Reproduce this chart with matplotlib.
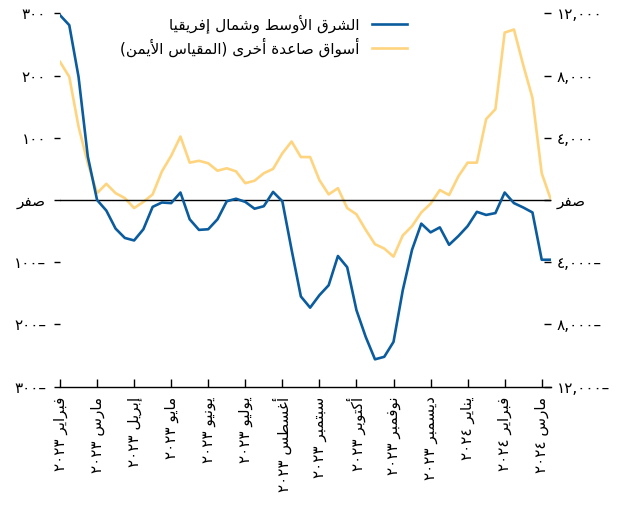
import re
import numpy as np
import matplotlib
matplotlib.use('Agg')
import matplotlib.pyplot as plt

plt.rcParams['font.family'] = 'DejaVu Sans'

# ---- data ----
months = ['فبراير', 'مارس', 'إبريل', 'مايو', 'يونيو', 'يوليو', 'أغسطس',
          'سبتمبر', 'أكتوبر', 'نوفمبر', 'ديسمبر', 'يناير', 'فبراير', 'مارس']
years = ['٢٠٢٣'] * 11 + ['٢٠٢٤'] * 3

# Middle East & North Africa (left scale), four points per month
mena = [297, 281, 198, 70, 0, -17, -46, -61, -65, -47, -11, -4, -5, 12,
        -31, -48, -47, -31, -2, 2, -3, -14, -10, 13, -2, -80,
        -155, -173, -153, -137, -90, -108, -177, -220, -256, -252, -228, -145, -80, -38, -52,
        -44, -72, -58, -42, -19, -24, -21, 12, -5, -12, -20, -96, -96]

# other emerging markets (right scale)
other_em = [8880, 7920, 4720, 2360, 440, 1040, 440, 120, -520, -120, 360, 1840, 2840, 4080,
            2400, 2520, 2360, 1880, 2040, 1840, 1080, 1240, 1720, 2000, 3000, 3760,
            2760, 2760, 1280, 360, 760, -520, -920, -1920, -2840, -3120, -3640, -2280, -1680, -800, -240,
            640, 320, 1520, 2400, 2400, 5200, 5840, 10760, 10960, 8680, 6560, 1720, 0]

left_ticks = [300, 200, 100, 0, -100, -200, -300]
left_labels = ['٣٠٠', '٢٠٠', '١٠٠', 'صفر', '١٠٠–', '٢٠٠–', '٣٠٠–']
right_ticks = [12000, 8000, 4000, 0, -4000, -8000, -12000]
right_labels = ['١٢,٠٠٠', '٨,٠٠٠', '٤,٠٠٠', 'صفر', '٤,٠٠٠–', '٨,٠٠٠–', '١٢,٠٠٠–']

label_mena = 'الشرق الأوسط وشمال إفريقيا'
label_other = 'أسواق صاعدة أخرى (المقياس الأيمن)'

BLUE = '#0a5c9e'
YELLOW = '#ffd47e'

# ---- minimal Arabic shaping (matplotlib has no bidi / joining) ----
_two = {'ا': 0xFE8D, 'أ': 0xFE83, 'إ': 0xFE87, 'آ': 0xFE81, 'ة': 0xFE93, 'د': 0xFEA9,
        'ذ': 0xFEAB, 'ر': 0xFEAD, 'ز': 0xFEAF, 'و': 0xFEED, 'ى': 0xFEEF}
_four = {'ب': 0xFE8F, 'ت': 0xFE95, 'ث': 0xFE99, 'ج': 0xFE9D, 'ح': 0xFEA1, 'خ': 0xFEA5,
         'س': 0xFEB1, 'ش': 0xFEB5, 'ص': 0xFEB9, 'ض': 0xFEBD, 'ط': 0xFEC1, 'ظ': 0xFEC5,
         'ع': 0xFEC9, 'غ': 0xFECD, 'ف': 0xFED1, 'ق': 0xFED5, 'ك': 0xFED9, 'ل': 0xFEDD,
         'م': 0xFEE1, 'ن': 0xFEE5, 'ه': 0xFEE9, 'ي': 0xFEF1}
_lamalef = {'ا': 0xFEFB, 'أ': 0xFEF7, 'إ': 0xFEF9, 'آ': 0xFEF5}


def shape(s):
    units = []
    i = 0
    while i < len(s):
        if s[i] == 'ل' and i + 1 < len(s) and s[i + 1] in _lamalef:
            units.append(('la', _lamalef[s[i + 1]]))
            i += 2
        else:
            units.append(s[i])
            i += 1

    def is_letter(u):
        return isinstance(u, tuple) or u in _two or u in _four

    out = []
    for k, u in enumerate(units):
        prev = units[k - 1] if k > 0 else None
        nxt = units[k + 1] if k + 1 < len(units) else None
        p = isinstance(prev, str) and prev in _four
        if isinstance(u, tuple):
            out.append(chr(u[1] + p))
        elif u in _two:
            out.append(chr(_two[u] + p))
        elif u in _four:
            n = nxt is not None and is_letter(nxt)
            off = {(False, False): 0, (True, False): 1, (False, True): 2, (True, True): 3}[(p, n)]
            out.append(chr(_four[u] + off))
        else:
            out.append(u)
    return ''.join(out)


def ar(s):
    # numbers-only labels are already written in display order
    if not any(c in _two or c in _four for c in s):
        return s
    v = shape(s)[::-1]
    v = re.sub(r'[0-9\u0660-\u0669,.]+', lambda m: m.group(0)[::-1], v)
    return v.translate(str.maketrans('()', ')('))


# ---- figure ----
fig = plt.figure(figsize=(6.31, 5.08), dpi=100)
ax = fig.add_axes([0.0951, 0.2388, 0.7781, 0.735])
ax2 = ax.twinx()
ax.set_zorder(ax2.get_zorder() + 1)
ax.patch.set_visible(False)

x = np.arange(len(mena))
ax.axhline(0, color='black', lw=1, zorder=1)
l1, = ax.plot(x, mena, color=BLUE, lw=1.9, zorder=3, label=ar(label_mena))
l2, = ax2.plot(x, other_em, color=YELLOW, lw=1.9, label=ar(label_other))

ax.set_xlim(0, len(mena) - 1)
ax.set_ylim(-300, 300)
ax2.set_ylim(-12000, 12000)

for a in (ax, ax2):
    for side in ('top', 'left', 'right', 'bottom'):
        a.spines[side].set_visible(False)
ax.spines['bottom'].set_visible(True)
ax.spines['bottom'].set_linewidth(1)

ax.set_xticks(np.arange(0, len(mena), 4))
ax.set_xticklabels([ar(f'{m} {y}') for m, y in zip(months, years)], rotation=90,
                   ha='center', va='top', fontsize=11)
ax.tick_params(axis='x', direction='in', length=6, width=1, pad=7)

ax.set_yticks(left_ticks)
ax.set_yticklabels([ar(t) for t in left_labels], fontsize=11)
ax.tick_params(axis='y', direction='out', length=4, width=1, pad=6)

ax2.set_yticks(right_ticks)
ax2.set_yticklabels([ar(t) for t in right_labels], fontsize=11)
ax2.tick_params(axis='y', direction='in', length=5, width=1, pad=4)

ax.legend(handles=[l1, l2], loc='upper right', bbox_to_anchor=(407 / 631, 1 - 14 / 508),
          bbox_transform=fig.transFigure, frameon=False, markerfirst=False,
          borderpad=0, borderaxespad=0, handlelength=2.3, handletextpad=0.8,
          labelspacing=0.3, fontsize=11)

fig.savefig('out.png', dpi=100)
